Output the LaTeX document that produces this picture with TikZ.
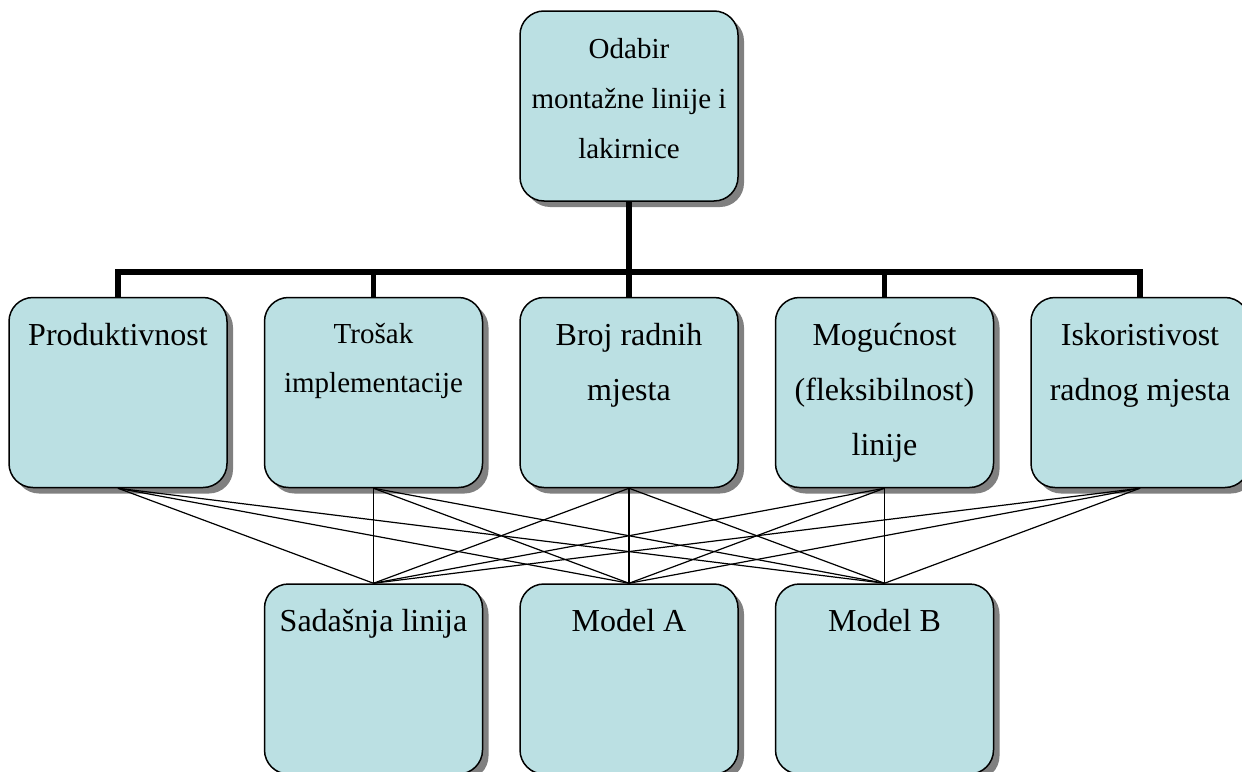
\documentclass[tikz,border=0pt]{standalone}
\usepackage{fontspec}
\setmainfont{Liberation Serif}
\usetikzlibrary{shadows, positioning}
\definecolor{boxfill}{RGB}{187,224,227}

\begin{document}
\begin{tikzpicture}[
  x=0.5pt, y=-0.5pt,
  node distance=47.5pt and 18pt,
  box/.style={draw, fill=boxfill, line width=.75pt, rounded corners=12pt,
    minimum width=109pt, minimum height=95pt, inner sep=0pt,
    drop shadow={shadow xshift=3pt, shadow yshift=-3pt, fill=black!50, opacity=1}},
  txt/.style={anchor=north, yshift=-13pt, align=center, inner sep=0pt,
    font=\fontsize{16}{27.5}\selectfont},
  small/.style={font=\fontsize{14.5}{24.5}\selectfont},
  bus/.style={line width=2.75pt, line join=miter},
  link/.style={line width=.6pt}]

  \useasboundingbox (0,0) rectangle (1242,771);

  % goal
  \node[box, label={[txt, small, yshift=-1pt, font=\fontsize{14.5}{25}\selectfont]north:Odabir\\montažne linije i\\lakirnice}] (odabir) at (629,106) {};

  % criteria
  \node[box, below=of odabir, label={[txt]north:Broj radnih\\mjesta}] (broj) {};
  \node[box, left=of broj, label={[txt, small]north:Trošak\\implementacije}] (trosak) {};
  \node[box, left=of trosak, label={[txt]north:Produktivnost}] (prod) {};
  \node[box, right=of broj, label={[txt]north:Mogućnost\\(fleksibilnost)\\linije}] (moguc) {};
  \node[box, right=of moguc, label={[txt]north:Iskoristivost\\radnog mjesta}] (iskor) {};

  % alternatives
  \node[box, below=of broj, label={[txt]north:Model A}] (modela) {};
  \node[box, left=of modela, label={[txt]north:Sadašnja linija}] (sadasnja) {};
  \node[box, right=of modela, label={[txt]north:Model B}] (modelb) {};

  \coordinate (bus) at (629,272);
  \draw[bus] (odabir.south) -- (broj.north);
  \draw[bus] (prod.north) -- (prod.north |- bus) -- (iskor.north |- bus) -- (iskor.north);
  \foreach \n in {trosak, moguc}
    \draw[bus] (\n.north) -- (\n.north |- bus);

  \foreach \a in {prod, trosak, broj, moguc, iskor}
    \foreach \b in {sadasnja, modela, modelb}
      \draw[link] (\a.south) -- (\b.north);
\end{tikzpicture}
\end{document}
